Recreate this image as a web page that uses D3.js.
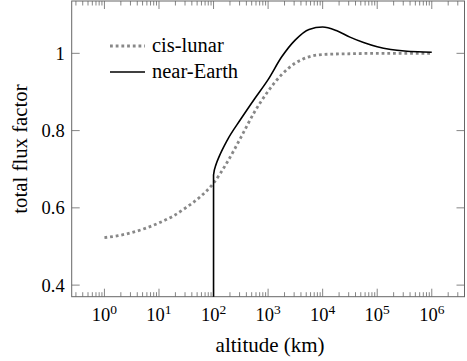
<!DOCTYPE html>
<html>
<head>
<meta charset="utf-8">
<script src="https://cdn.jsdelivr.net/npm/d3@7"></script>
<style>
  body { margin: 0; background: #fff; }
  text { font-family: "Liberation Serif", "DejaVu Serif", serif; fill: #000; }
</style>
</head>
<body>
<svg class="chart"></svg>
<script>
// data: altitude in km, flux factor
var cisAltitude = [1, 1.778, 3.162, 5.623, 10, 17.78, 31.62, 56.23, 100, 177.8, 316.2, 562.3, 1000, 1778, 3162, 5623, 10000, 31623, 100000, 316228, 1000000];
var cisFlux = [0.523, 0.528, 0.536, 0.547, 0.561, 0.578, 0.601, 0.628, 0.664, 0.718, 0.782, 0.848, 0.902, 0.945, 0.975, 0.991, 0.997, 0.999, 1.0, 1.0, 1.0];

var nearAltitude = [100, 100, 112.2, 125.9, 177.8, 316.2, 562.3, 1000, 1778, 3162, 5623, 10000, 17783, 31623, 56234, 100000, 177828, 316228, 562341, 1000000];
var nearFlux = [0, 0.685, 0.714, 0.732, 0.775, 0.830, 0.882, 0.932, 0.991, 1.035, 1.062, 1.068, 1.059, 1.042, 1.028, 1.017, 1.010, 1.006, 1.004, 1.003];

var seriesNames = ["cis-lunar", "near-Earth"];
var xTickExponents = [0, 1, 2, 3, 4, 5, 6];
var yTicks = [0.4, 0.6, 0.8, 1];

// define margins
var margin = {top: 1, right: 2.5, bottom: 64.3, left: 71.7},
  width = 467 - margin.left - margin.right,
  height = 361 - margin.top - margin.bottom;

// log x scale, limits enlarged like pgfplots
var x = d3.scaleLog()
  .domain([Math.pow(10, -0.6), Math.pow(10, 6.6)])
  .range([0, width]);

var y = d3.scaleLinear()
  .domain([0.37, 1.1355])
  .range([height, 0]);

var svg = d3.select(".chart")
  .attr("width", 467)
  .attr("height", 361);

var chart = svg.append("g")
  .attr("transform", "translate(" + margin.left + "," + margin.top + ")");

chart.append("clipPath")
  .attr("id", "plotclip")
  .append("rect")
  .attr("width", width)
  .attr("height", height);

// minor ticks at 2..9 of each decade
var minorTicks = [];
for (var e = -1; e <= 6; e++) {
  for (var m = 2; m <= 9; m++) {
    var v = m * Math.pow(10, e);
    if (v > x.domain()[0] && v < x.domain()[1]) minorTicks.push(v);
  }
}
var majorTicks = xTickExponents.map(function(d) { return Math.pow(10, d); });

var tickColor = "#666";

// ticks on bottom and top, pointing inwards
[height, 0].forEach(function(base) {
  var dir = base === 0 ? 1 : -1;
  chart.selectAll(null)
    .data(minorTicks)
    .enter().append("line")
    .attr("x1", function(d) { return x(d); })
    .attr("x2", function(d) { return x(d); })
    .attr("y1", base)
    .attr("y2", base + dir * 4.5)
    .attr("stroke", tickColor)
    .attr("stroke-width", 0.8);
  chart.selectAll(null)
    .data(majorTicks)
    .enter().append("line")
    .attr("x1", function(d) { return x(d); })
    .attr("x2", function(d) { return x(d); })
    .attr("y1", base)
    .attr("y2", base + dir * 8)
    .attr("stroke", tickColor)
    .attr("stroke-width", 0.8);
});

// y ticks on left and right
[0, width].forEach(function(base) {
  var dir = base === 0 ? 1 : -1;
  chart.selectAll(null)
    .data(yTicks)
    .enter().append("line")
    .attr("x1", base)
    .attr("x2", base + dir * 8)
    .attr("y1", function(d) { return y(d); })
    .attr("y2", function(d) { return y(d); })
    .attr("stroke", tickColor)
    .attr("stroke-width", 0.8);
});

// frame
chart.append("rect")
  .attr("width", width)
  .attr("height", height)
  .attr("fill", "none")
  .attr("stroke", tickColor)
  .attr("stroke-width", 1);

// x tick labels as 10^n
var xLabels = chart.selectAll(".xlabel")
  .data(xTickExponents)
  .enter().append("text")
  .attr("class", "xlabel")
  .attr("x", function(d) { return x(Math.pow(10, d)); })
  .attr("y", height + 24)
  .attr("text-anchor", "middle")
  .style("font-size", "18.5px");
xLabels.append("tspan").text("10");
xLabels.append("tspan")
  .attr("dy", -7)
  .style("font-size", "13.5px")
  .text(function(d) { return d; });

// y tick labels
chart.selectAll(".ylabel")
  .data(yTicks)
  .enter().append("text")
  .attr("class", "ylabel")
  .attr("x", -7)
  .attr("y", function(d) { return y(d); })
  .attr("dy", "0.35em")
  .attr("text-anchor", "end")
  .style("font-size", "18.5px")
  .text(function(d) { return d3.format("")(d); });

// axis labels
chart.append("text")
  .attr("x", width / 2 + 2)
  .attr("y", height + 55)
  .attr("text-anchor", "middle")
  .style("font-size", "21px")
  .text("altitude (km)");

chart.append("text")
  .attr("transform", "rotate(-90)")
  .attr("x", -148)
  .attr("y", -44.5)
  .attr("text-anchor", "middle")
  .style("font-size", "20.8px")
  .text("total flux factor");

// lines
var line = d3.line()
  .x(function(d) { return x(d[0]); })
  .y(function(d) { return y(d[1]); })
  .curve(d3.curveMonotoneX);

var cisData = d3.zip(cisAltitude, cisFlux);
var nearData = d3.zip(nearAltitude, nearFlux);

var plot = chart.append("g").attr("clip-path", "url(#plotclip)");

var styles = [
  {stroke: "#888", width: 2.8, dash: "2.8,2.9"},
  {stroke: "#000", width: 1.6, dash: null}
];

plot.append("path")
  .datum(cisData)
  .attr("d", line)
  .attr("fill", "none")
  .attr("stroke", styles[0].stroke)
  .attr("stroke-width", styles[0].width)
  .attr("stroke-dasharray", styles[0].dash);

plot.append("path")
  .datum(nearData)
  .attr("d", line)
  .attr("fill", "none")
  .attr("stroke", styles[1].stroke)
  .attr("stroke-width", styles[1].width);

// legend
var legend = chart.selectAll(".legend")
  .data(seriesNames)
  .enter().append("g")
  .attr("class", "legend")
  .attr("transform", function(d, i) { return "translate(" + (110 - margin.left) + "," + (46 + i * 26 - margin.top) + ")"; });

legend.append("line")
  .attr("x1", 0)
  .attr("x2", 35)
  .attr("stroke", function(d, i) { return styles[i].stroke; })
  .attr("stroke-width", function(d, i) { return styles[i].width; })
  .attr("stroke-dasharray", function(d, i) { return styles[i].dash; });

legend.append("text")
  .attr("x", 42)
  .attr("dy", "0.3em")
  .style("font-size", "20.5px")
  .text(function(d) { return d; });
</script>
</body>
</html>
